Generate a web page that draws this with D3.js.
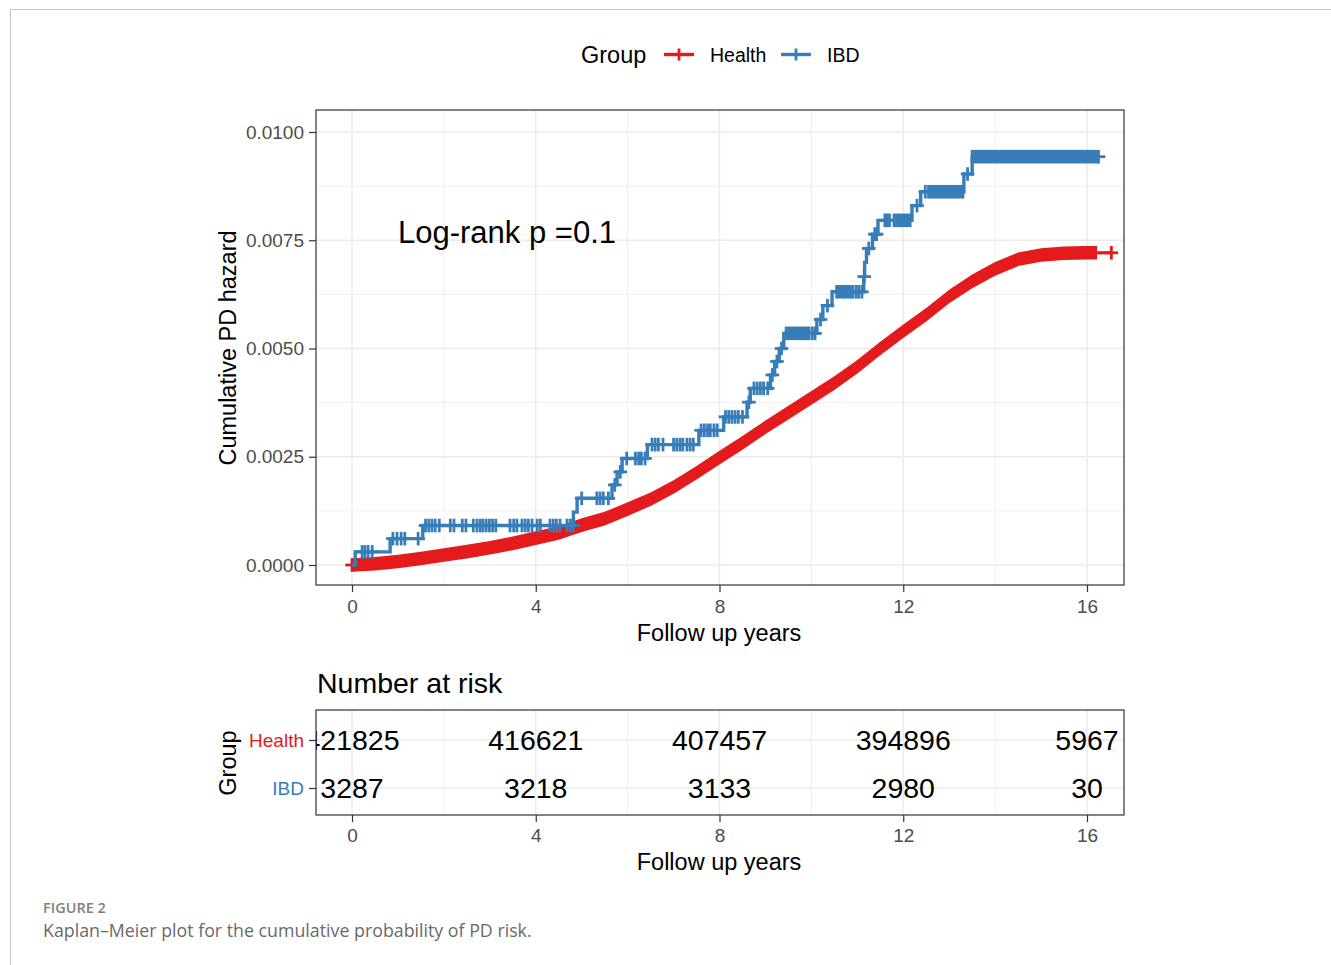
<!DOCTYPE html>
<html>
<head>
<meta charset="utf-8">
<script src="https://cdn.jsdelivr.net/npm/d3@7"></script>
<style>
  html, body { margin: 0; padding: 0; background: #ffffff; }
  svg { display: block; font-family: "Liberation Sans", Arial, sans-serif; }
  .caption { font-family: "Open Sans", sans-serif; }
</style>
</head>
<body>
<svg id="chart" width="1331" height="965"></svg>
<script>
// ---- data ----
const groups = ["Health", "IBD"];
const groupColors = ["#E41A1C", "#377EB8"];
const timeTicks = [0, 4, 8, 12, 16];
const timeMinor = [2, 6, 10, 14];
const hazardTicks = [0, 0.0025, 0.005, 0.0075, 0.01];
const hazardMinor = [0.00125, 0.00375, 0.00625, 0.00875];

// Health: cumulative hazard (densely censored, shown as a continuous band)
const healthTime   = [0, 0.5, 1, 1.5, 2, 2.5, 3, 3.5, 4, 4.5, 5, 5.5, 6, 6.5, 7, 7.5, 8, 8.5, 9, 9.5, 10, 10.5, 11, 11.5, 12, 12.5, 13, 13.5, 14, 14.5, 15, 15.5, 16, 16.22];
const healthHazard = [0, 0.00003, 0.00008, 0.00015, 0.00023, 0.00031, 0.00040, 0.00050, 0.00062, 0.00074, 0.00092, 0.00107, 0.00129, 0.00152, 0.00180, 0.00213, 0.00248, 0.00282, 0.00318, 0.00352, 0.00386, 0.00420, 0.00458, 0.00500, 0.00540, 0.00578, 0.00620, 0.00655, 0.00684, 0.00706, 0.00716, 0.00720, 0.00721, 0.00721];
const healthLastCensor = 16.53;

// IBD: step times and cumulative hazard after each step
const ibdTime   = [0, 0.07, 0.83, 1.54, 4.82, 4.9, 5.66, 5.77, 5.88, 6.43, 7.55, 8.09, 8.6, 8.67, 9.11, 9.2, 9.3, 9.4, 10.12, 10.25, 10.45, 11.14, 11.16, 11.2, 11.33, 11.45, 12.19, 12.38, 13.32, 13.5, 16.22];
const ibdHazard = [0, 0.000304, 0.000608, 0.000912, 0.00122, 0.00154, 0.00185, 0.00215, 0.00246, 0.00278, 0.00311, 0.00342, 0.00376, 0.00408, 0.00439, 0.00470, 0.00500, 0.00535, 0.00567, 0.00599, 0.00631, 0.00666, 0.00699, 0.00731, 0.00764, 0.00796, 0.00830, 0.00862, 0.00903, 0.00943, 0.00943];
// IBD censoring times (single marks) and stretches of dense censoring
const ibdCensor = [0.22, 0.28, 0.35, 0.44, 0.89, 0.98, 1.07, 1.15, 1.44, 1.6, 1.67, 1.74, 1.81, 1.9, 2.14, 2.22, 2.4, 2.48, 2.64, 2.72, 2.79, 2.85, 2.92, 2.99, 3.06, 3.13, 3.44, 3.52, 3.59, 3.7, 3.77, 3.84, 3.92, 4.03, 4.1, 4.31, 4.38, 4.45, 4.53, 4.68, 4.75, 4.81, 5.0, 5.33, 5.4, 5.47, 5.58, 5.72, 5.84, 5.98, 6.17, 6.24, 6.3, 6.38, 6.53, 6.6, 6.67, 6.77, 7.0, 7.07, 7.14, 7.2, 7.29, 7.36, 7.43, 7.6, 7.67, 7.74, 7.8, 7.88, 7.95, 8.13, 8.2, 8.27, 8.34, 8.41, 8.5, 8.64, 8.75, 8.82, 8.89, 8.96, 9.05, 9.15, 9.25, 9.35, 9.95, 10.02, 10.08, 10.2, 10.35, 10.9, 10.97, 11.03, 11.1, 11.15, 11.25, 11.38, 11.42, 11.6, 11.65, 11.7, 12.3, 12.48, 12.55, 13.4, 16.25];
const ibdCensorStart = [9.45, 10.55, 11.8, 12.6, 13.5];
const ibdCensorEnd   = [9.9, 10.85, 12.15, 13.3, 16.22];

// Number at risk
const riskHealth = [421825, 416621, 407457, 394896, 5967];
const riskIBD    = [3287, 3218, 3133, 2980, 30];

// ---- layout ----
const svg = d3.select("#chart");
const panel = { left: 316, right: 1124, top: 110, bottom: 585 };
const risk  = { left: 316, right: 1124, top: 710, bottom: 815 };
const axisGrey = "#4D4D4D", borderGrey = "#333333", gridGrey = "#EBEBEB";
const mark = 6.8;

const x = d3.scaleLinear().domain([0, 16]).range([352, 1087]);
const y = d3.scaleLinear().domain([0, 0.01]).range([565, 132]);
const yRisk = d3.scalePoint().domain(groups).range([740, 788]);

// page frame
svg.append("line").attr("x1", 10).attr("x2", 1331).attr("y1", 9.5).attr("y2", 9.5).attr("stroke", "#c4c4c4").attr("stroke-width", 1);
svg.append("line").attr("x1", 10.5).attr("x2", 10.5).attr("y1", 9).attr("y2", 965).attr("stroke", "#c4c4c4").attr("stroke-width", 1);

// ---- legend ----
const legend = svg.append("g");
legend.append("text").attr("x", 581).attr("y", 63).attr("font-size", 23.5).attr("fill", "#000").text("Group");
const legendX = [664, 781];
groups.forEach((g, i) => {
  const lx = legendX[i];
  legend.append("line").attr("x1", lx).attr("x2", lx + 30).attr("y1", 54.5).attr("y2", 54.5)
    .attr("stroke", groupColors[i]).attr("stroke-width", 3.4);
  legend.append("line").attr("x1", lx + 15).attr("x2", lx + 15).attr("y1", 48.5).attr("y2", 60.5)
    .attr("stroke", groupColors[i]).attr("stroke-width", 2.8);
  legend.append("text").attr("x", lx + 46).attr("y", 61.5).attr("font-size", 19.5).attr("fill", "#000").text(g);
});

// ---- main panel ----
const main = svg.append("g");
main.append("rect").attr("x", panel.left).attr("y", panel.top)
  .attr("width", panel.right - panel.left).attr("height", panel.bottom - panel.top).attr("fill", "#fff");
const grid = main.append("g");
timeMinor.forEach(t => grid.append("line").attr("x1", x(t)).attr("x2", x(t)).attr("y1", panel.top).attr("y2", panel.bottom).attr("stroke", gridGrey).attr("stroke-width", 0.8));
hazardMinor.forEach(v => grid.append("line").attr("x1", panel.left).attr("x2", panel.right).attr("y1", y(v)).attr("y2", y(v)).attr("stroke", gridGrey).attr("stroke-width", 0.8));
timeTicks.forEach(t => grid.append("line").attr("x1", x(t)).attr("x2", x(t)).attr("y1", panel.top).attr("y2", panel.bottom).attr("stroke", gridGrey).attr("stroke-width", 1.5));
hazardTicks.forEach(v => grid.append("line").attr("x1", panel.left).attr("x2", panel.right).attr("y1", y(v)).attr("y2", y(v)).attr("stroke", gridGrey).attr("stroke-width", 1.5));

// Health curve: band of dense censor marks around the curve
const healthPts = healthTime.map((t, i) => [t, healthHazard[i]]);
main.append("path").datum(healthPts)
  .attr("d", d3.area().x(d => x(d[0])).y0(d => y(d[1]) + mark).y1(d => y(d[1]) - mark))
  .attr("fill", groupColors[0]);
const hLast = healthHazard[healthHazard.length - 1];
main.append("line").attr("x1", x(healthTime[healthTime.length - 1])).attr("x2", x(healthLastCensor))
  .attr("y1", y(hLast)).attr("y2", y(hLast)).attr("stroke", groupColors[0]).attr("stroke-width", 3.2);
function plus(g, t, v, color) {
  g.append("line").attr("x1", x(t) - mark).attr("x2", x(t) + mark).attr("y1", y(v)).attr("y2", y(v)).attr("stroke", color).attr("stroke-width", 2.8);
  g.append("line").attr("x1", x(t)).attr("x2", x(t)).attr("y1", y(v) - mark).attr("y2", y(v) + mark).attr("stroke", color).attr("stroke-width", 2.8);
}
plus(main, 0, 0, groupColors[0]);
plus(main, healthLastCensor, hLast, groupColors[0]);

// IBD step curve with censor marks
const ibdPts = ibdTime.map((t, i) => [t, ibdHazard[i]]);
main.append("path").datum(ibdPts)
  .attr("d", d3.line().x(d => x(d[0])).y(d => y(d[1])).curve(d3.curveStepAfter))
  .attr("fill", "none").attr("stroke", groupColors[1]).attr("stroke-width", 3.4);
const ibdAt = t => ibdHazard[Math.max(0, d3.bisectRight(ibdTime, t) - 1)];
ibdCensorStart.forEach((s, i) => {
  const v = ibdAt(s);
  main.append("rect").attr("x", x(s) - 1.4).attr("y", y(v) - mark)
    .attr("width", x(ibdCensorEnd[i]) - x(s) + 2.8).attr("height", 2 * mark).attr("fill", groupColors[1]);
});
ibdCensor.forEach(t => plus(main, t, ibdAt(t), groupColors[1]));

main.append("rect").attr("x", panel.left).attr("y", panel.top)
  .attr("width", panel.right - panel.left).attr("height", panel.bottom - panel.top)
  .attr("fill", "none").attr("stroke", borderGrey).attr("stroke-width", 1.2);

main.append("text").attr("x", 398).attr("y", 243).attr("font-size", 31).attr("fill", "#000").text("Log-rank p =0.1");

// axes
function styleAxis(g) {
  g.select(".domain").remove();
  g.selectAll(".tick line").attr("stroke", borderGrey).attr("stroke-width", 1.2);
  g.selectAll(".tick text").attr("fill", axisGrey).attr("font-size", 19).attr("font-family", null);
}
svg.append("g").attr("transform", `translate(${panel.left},0)`)
  .call(d3.axisLeft(y).tickValues(hazardTicks).tickFormat(d3.format(".4f")).tickSize(7).tickPadding(5))
  .call(styleAxis);
svg.append("g").attr("transform", `translate(0,${panel.bottom})`)
  .call(d3.axisBottom(x).tickValues(timeTicks).tickFormat(d3.format("d")).tickSize(7).tickPadding(8))
  .call(styleAxis);
svg.append("text").attr("x", 719).attr("y", 641).attr("text-anchor", "middle").attr("font-size", 23.5).text("Follow up years");
svg.append("text").attr("transform", "translate(236,348) rotate(-90)").attr("text-anchor", "middle").attr("font-size", 23.5).text("Cumulative PD hazard");

// ---- number at risk table ----
svg.append("text").attr("x", 317).attr("y", 693).attr("font-size", 28.5).text("Number at risk");
const tab = svg.append("g");
tab.append("clipPath").attr("id", "riskClip").append("rect")
  .attr("x", risk.left).attr("y", risk.top).attr("width", risk.right - risk.left).attr("height", risk.bottom - risk.top);
const tgrid = tab.append("g");
timeMinor.forEach(t => tgrid.append("line").attr("x1", x(t)).attr("x2", x(t)).attr("y1", risk.top).attr("y2", risk.bottom).attr("stroke", gridGrey).attr("stroke-width", 0.8));
timeTicks.forEach(t => tgrid.append("line").attr("x1", x(t)).attr("x2", x(t)).attr("y1", risk.top).attr("y2", risk.bottom).attr("stroke", gridGrey).attr("stroke-width", 1.5));
groups.forEach(g => tgrid.append("line").attr("x1", risk.left).attr("x2", risk.right).attr("y1", yRisk(g)).attr("y2", yRisk(g)).attr("stroke", gridGrey).attr("stroke-width", 1.5));
const riskRows = [riskHealth, riskIBD];
const nums = tab.append("g").attr("clip-path", "url(#riskClip)");
groups.forEach((g, gi) => {
  riskRows[gi].forEach((n, i) => {
    nums.append("text").attr("x", x(timeTicks[i])).attr("y", yRisk(g)).attr("dy", "0.36em")
      .attr("text-anchor", "middle").attr("font-size", 28.5).attr("fill", "#000").text(n);
  });
});
tab.append("rect").attr("x", risk.left).attr("y", risk.top)
  .attr("width", risk.right - risk.left).attr("height", risk.bottom - risk.top)
  .attr("fill", "none").attr("stroke", borderGrey).attr("stroke-width", 1.2);
const ry = svg.append("g").attr("transform", `translate(${risk.left},0)`)
  .call(d3.axisLeft(yRisk).tickSize(7).tickPadding(5)).call(styleAxis);
ry.selectAll(".tick text").attr("fill", d => groupColors[groups.indexOf(d)]);
svg.append("g").attr("transform", `translate(0,${risk.bottom})`)
  .call(d3.axisBottom(x).tickValues(timeTicks).tickFormat(d3.format("d")).tickSize(7).tickPadding(7))
  .call(styleAxis);
svg.append("text").attr("x", 719).attr("y", 870).attr("text-anchor", "middle").attr("font-size", 23.5).text("Follow up years");
svg.append("text").attr("transform", "translate(236,763) rotate(-90)").attr("text-anchor", "middle").attr("font-size", 23.5).text("Group");

// ---- caption ----
svg.append("text").attr("class", "caption").attr("x", 43).attr("y", 913).attr("font-size", 14.5).attr("font-weight", 600)
  .attr("fill", "#808080").text("FIGURE 2");
svg.append("text").attr("class", "caption").attr("x", 43).attr("y", 937).attr("font-size", 17.8)
  .attr("fill", "#6a6a6a").text("Kaplan–Meier plot for the cumulative probability of PD risk.");
</script>
</body>
</html>
